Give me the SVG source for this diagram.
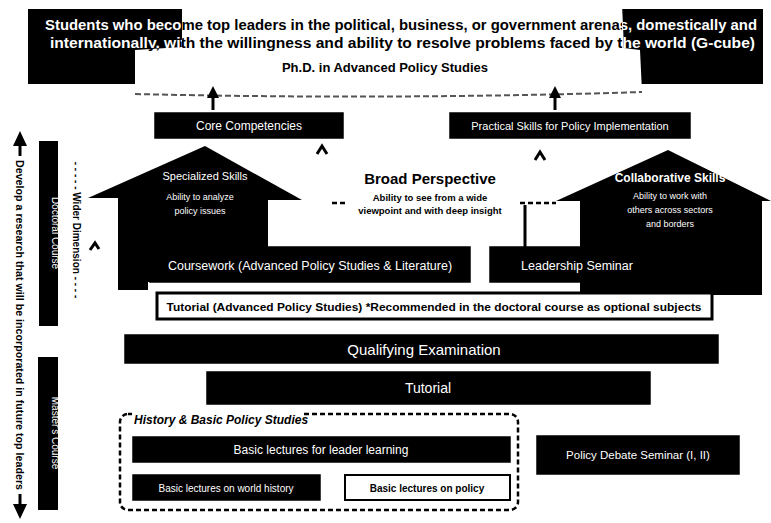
<svg xmlns="http://www.w3.org/2000/svg" width="771" height="523" viewBox="0 0 771 523">
<style>
  .blk{fill:#000}
  .wt{fill:#fff;font-family:"Liberation Sans",Arial,sans-serif}
  .bt{fill:#000;font-family:"Liberation Sans",Arial,sans-serif}
  .bold{font-weight:bold}
  .box{fill:#000;stroke:#000;stroke-width:1.5}
  .conn{stroke:#000;stroke-width:3;fill:none}
  .dash{stroke:#000;stroke-width:2.5;fill:none;stroke-dasharray:5 3}
</style>
<defs>
  <marker id="ah" viewBox="0 0 10 10" refX="5" refY="5" markerWidth="4" markerHeight="4" orient="auto-start-reverse">
    <path d="M0,0 L10,5 L0,10 Z" fill="#000"/>
  </marker>
  <clipPath id="darkL"><polygon points="28,9 182,9 182,48 135,48 135,84 28,84"/></clipPath>
  <clipPath id="darkR"><polygon points="622,9 763,9 763,84 640,84 640,48 622,48"/></clipPath>
</defs>

<g id="banner">
  <rect x="28" y="9" width="735" height="75" class="blk"/>
  <path d="M182,4 Q400,0 622,4 L624,48 L640,50 L642,92 Q390,100 135,94 L135,50 L182,47 Z" fill="#fff"/>
  <path d="M135,94 Q390,100 642,92" stroke="#555" stroke-width="2" fill="none" stroke-dasharray="6 3"/>
  <g class="bt bold" font-size="14">
    <text x="45" y="30" textLength="712" lengthAdjust="spacingAndGlyphs">Students who become top leaders in the political, business, or government arenas, domestically and</text>
    <text x="50" y="48" textLength="705" lengthAdjust="spacingAndGlyphs">internationally, with the willingness and ability to resolve problems faced by the world (G-cube)</text>
  </g>
  <g class="wt bold" font-size="14" clip-path="url(#darkL)">
    <text x="45" y="30" textLength="712" lengthAdjust="spacingAndGlyphs">Students who become top leaders in the political, business, or government arenas, domestically and</text>
    <text x="50" y="48" textLength="705" lengthAdjust="spacingAndGlyphs">internationally, with the willingness and ability to resolve problems faced by the world (G-cube)</text>
  </g>
  <g class="wt bold" font-size="14" clip-path="url(#darkR)">
    <text x="45" y="30" textLength="712" lengthAdjust="spacingAndGlyphs">Students who become top leaders in the political, business, or government arenas, domestically and</text>
    <text x="50" y="48" textLength="705" lengthAdjust="spacingAndGlyphs">internationally, with the willingness and ability to resolve problems faced by the world (G-cube)</text>
  </g>
  <text x="385" y="72" text-anchor="middle" class="bt bold" font-size="13">Ph.D. in Advanced Policy Studies</text>
</g>

<g id="core">
  <rect x="155" y="113" width="188" height="25" class="box"/>
  <text x="249" y="130" text-anchor="middle" class="wt" font-size="12">Core Competencies</text>
</g>
<g id="practical">
  <rect x="450" y="113" width="240" height="25" class="box"/>
  <text x="570" y="130" text-anchor="middle" class="wt" font-size="11">Practical Skills for Policy Implementation</text>
</g>

<g id="house-left">
  <polygon points="205,146 88,198 118,198 118,290 148,290 148,282 268,282 268,200 302,200" class="blk"/>
  <text x="205" y="180" text-anchor="middle" class="wt" font-size="11">Specialized Skills</text>
  <text x="200" y="200" text-anchor="middle" class="wt" font-size="9">Ability to analyze</text>
  <text x="200" y="214" text-anchor="middle" class="wt" font-size="9">policy issues</text>
</g>
<g id="house-right">
  <polygon points="668,150 556,201 580,201 580,295 762,295 762,201 771,201" class="blk"/>
  <text x="670" y="182" text-anchor="middle" class="wt bold" font-size="12">Collaborative Skills</text>
  <text x="670" y="199" text-anchor="middle" class="wt" font-size="9">Ability to work with</text>
  <text x="670" y="213" text-anchor="middle" class="wt" font-size="9">others across sectors</text>
  <text x="670" y="227" text-anchor="middle" class="wt" font-size="9">and borders</text>
</g>

<g id="broad">
  <text x="430" y="184" text-anchor="middle" class="bt bold" font-size="15">Broad Perspective</text>
  <text x="430" y="201" text-anchor="middle" class="bt bold" font-size="9.5">Ability to see from a wide</text>
  <text x="430" y="214" text-anchor="middle" class="bt bold" font-size="9.5">viewpoint and with deep insight</text>
</g>

<g id="coursework">
  <rect x="150" y="247" width="320" height="35" class="box" stroke="#fff" stroke-width="1.5"/>
  <text x="310" y="270" text-anchor="middle" class="wt" font-size="12.5">Coursework (Advanced Policy Studies &amp; Literature)</text>
</g>
<g id="leadership">
  <rect x="490" y="247" width="175" height="35" class="box"/>
  <text x="577" y="270" text-anchor="middle" class="wt" font-size="12.5">Leadership Seminar</text>
</g>

<g id="tutorial-adv">
  <rect x="157" y="293" width="555" height="26" fill="#fff" stroke="#000" stroke-width="3"/>
  <text x="434" y="311" text-anchor="middle" class="bt bold" font-size="11" textLength="535" lengthAdjust="spacingAndGlyphs">Tutorial (Advanced Policy Studies) *Recommended in the doctoral course as optional subjects</text>
</g>

<g id="qualifying">
  <rect x="125" y="335" width="593" height="28" class="box"/>
  <text x="424" y="355" text-anchor="middle" class="wt" font-size="15">Qualifying Examination</text>
</g>
<g id="tutorial">
  <rect x="207" y="372" width="443" height="32" class="box"/>
  <text x="428" y="393" text-anchor="middle" class="wt" font-size="14">Tutorial</text>
</g>

<g id="history">
  <rect x="120" y="414" width="398" height="96" rx="8" class="dash"/>
  <rect x="132" y="412" width="172" height="14" fill="#fff"/>
  <text x="134" y="424" class="bt bold" font-size="12" font-style="italic">History &amp; Basic Policy Studies</text>
</g>
<g id="basic-leader">
  <rect x="133" y="437" width="377" height="25" class="box"/>
  <text x="321" y="454" text-anchor="middle" class="wt" font-size="12">Basic lectures for leader learning</text>
</g>
<g id="basic-history">
  <rect x="133" y="475" width="187" height="25" class="box"/>
  <text x="226" y="492" text-anchor="middle" class="wt" font-size="10">Basic lectures on world history</text>
</g>
<g id="basic-policy">
  <rect x="345" y="475" width="165" height="25" fill="#fff" stroke="#000" stroke-width="2"/>
  <text x="427" y="492" text-anchor="middle" class="bt bold" font-size="10">Basic lectures on policy</text>
</g>
<g id="policy-debate">
  <rect x="537" y="436" width="202" height="38" class="box"/>
  <text x="638" y="459" text-anchor="middle" class="wt" font-size="11.5">Policy Debate Seminar (I, II)</text>
</g>

<g id="doctoral">
  <rect x="39" y="141" width="19" height="185" class="blk"/>
  <text transform="translate(52,233) rotate(90)" text-anchor="middle" class="wt" font-size="10">Doctoral Course</text>
</g>
<g id="master">
  <rect x="38" y="357" width="20" height="153" class="blk"/>
  <text transform="translate(52,433) rotate(90)" text-anchor="middle" class="wt" font-size="10">Master's Course</text>
</g>
<g id="wider">
  <text transform="translate(73,230) rotate(90)" text-anchor="middle" class="bt bold" font-size="10">- - - - - Wider Dimension - - - -</text>
</g>
<g id="develop">
  <text transform="translate(16,325) rotate(90)" text-anchor="middle" class="bt bold" font-size="10" textLength="330" lengthAdjust="spacingAndGlyphs">Develop a research that will be incorporated in future top leaders</text>
</g>

<g id="connectors">
  <line x1="213" y1="110" x2="213" y2="92" class="conn" marker-end="url(#ah)"/>
  <line x1="555" y1="110" x2="555" y2="92" class="conn" marker-end="url(#ah)"/>
  <path d="M317,154 L322,146 L327,154" class="conn" stroke-width="2.5"/>
  <path d="M535,160 L540,152 L545,160" class="conn" stroke-width="2.5"/>
  <path d="M90,250 L95,243 L99,249" class="conn" stroke-width="2.5"/>
  <line x1="525" y1="205" x2="525" y2="247" class="conn" stroke-width="2"/>
  <line x1="332" y1="203" x2="346" y2="203" class="dash" stroke-width="2"/>
  <line x1="520" y1="203" x2="556" y2="203" class="dash" stroke-width="2"/>
  <line x1="20" y1="142" x2="20" y2="156" class="conn" stroke-width="2.5"/>
  <polygon points="20,131 13,146 27,146" class="blk"/>
  <line x1="20" y1="494" x2="20" y2="508" class="conn" stroke-width="2.5"/>
  <polygon points="20,519 13,504 27,504" class="blk"/>
</g>
</svg>
